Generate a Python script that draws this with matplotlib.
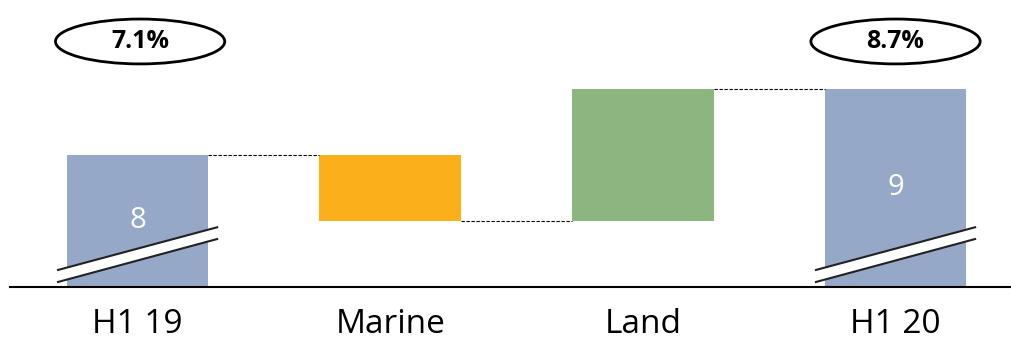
import matplotlib.pyplot as plt
from matplotlib.patches import Ellipse, Polygon

plt.rcParams['font.family'] = ['Open Sans', 'DejaVu Sans']

categorias = ['H1 19', 'Marine', 'Land', 'H1 20']
inicio = 8
variacoes = [-1, 2]
fim = 9
margens = ['7.1%', '8.7%']

base = 6  # eixo cortado: barras começam aqui
azul = '#96A8C7'
cores_var = ['#FBB01B', '#8CB57F']
larg = 0.56

fig = plt.figure(figsize=(10.12, 3.4), dpi=100)
ax = fig.add_axes([10 / 1012, 53 / 340, 1 - 10 / 1012, 287 / 340])
ax.set_xlim(-0.505, 3.461)
ax.set_ylim(base, base + 287 / 66)

# barras totais
ax.bar(0, inicio - base, bottom=base, width=larg, color=azul)
ax.bar(3, fim - base, bottom=base, width=larg, color=azul)

# barras de variação
nivel = inicio
niveis = [inicio]
for i, v in enumerate(variacoes):
    baixo = min(nivel, nivel + v)
    ax.bar(i + 1, abs(v), bottom=baixo, width=larg, color=cores_var[i])
    nivel += v
    niveis.append(nivel)

# linhas tracejadas ligando as barras
for i, n in enumerate(niveis):
    ax.plot([i + larg / 2, i + 1 - larg / 2], [n, n], color='black',
            lw=0.8, ls=(0, (3, 1.5)))

# valores dentro das barras totais
ax.text(0, (inicio + base) / 2, str(inicio), color='white', fontsize=21,
        ha='center', va='center')
ax.text(3, (fim + base) / 2, str(fim), color='white', fontsize=21,
        ha='center', va='center')

# marcas de corte
for x in [0, 3]:
    x0, x1 = x - 0.315, x + 0.315
    ax.add_patch(Polygon([[x0, 6.258], [x1, 6.905], [x1, 6.727], [x0, 6.076]],
                         closed=True, facecolor='white', edgecolor='none', zorder=3))
    ax.plot([x0, x1], [6.258, 6.905], color='#222222', lw=1.5, zorder=4)
    ax.plot([x0, x1], [6.076, 6.727], color='#222222', lw=1.5, zorder=4)

# margens nas elipses
for x, m in zip([0.01, 3.0], margens):
    ax.add_patch(Ellipse((x, 9.72), 0.67, 0.68, facecolor='white',
                         edgecolor='black', lw=2, zorder=3))
    ax.text(x, 9.72, m, fontsize=18, fontweight='bold', ha='center',
            va='center', zorder=4)

ax.set_xticks(range(len(categorias)))
ax.set_xticklabels(categorias, fontsize=24)
ax.tick_params(axis='x', length=0, pad=15)
ax.set_yticks([])
for lado in ['top', 'right', 'left']:
    ax.spines[lado].set_visible(False)
ax.spines['bottom'].set_linewidth(1.5)
ax.spines['bottom'].set_zorder(5)

plt.savefig('out.png', dpi=100)
